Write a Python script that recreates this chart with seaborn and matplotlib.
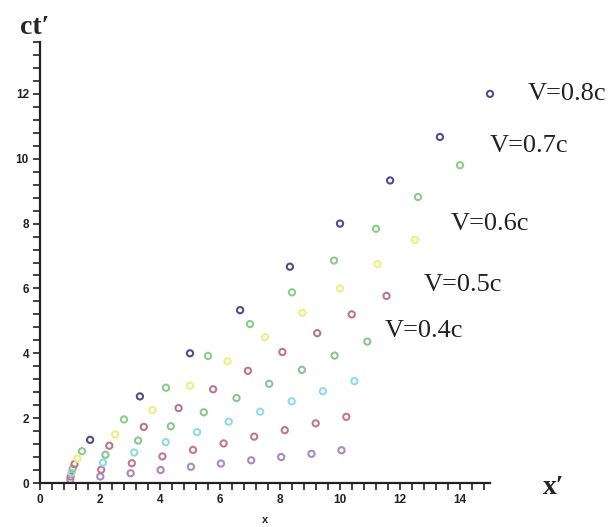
import pandas as pd
import numpy as np
import matplotlib.pyplot as plt
import seaborn as sns
from matplotlib.ticker import MultipleLocator

# x' and ct', one list pair per speed
speeds = ["V=0.1c", "V=0.2c", "V=0.3c", "V=0.4c", "V=0.5c", "V=0.6c", "V=0.7c", "V=0.8c"]
x_01 = [1.01, 2.01, 3.02, 4.02, 5.03, 6.03, 7.04, 8.04, 9.05, 10.05]
t_01 = [0.10, 0.20, 0.30, 0.40, 0.50, 0.60, 0.70, 0.80, 0.90, 1.01]
x_02 = [1.02, 2.04, 3.06, 4.08, 5.10, 6.12, 7.14, 8.16, 9.19, 10.21]
t_02 = [0.20, 0.41, 0.61, 0.82, 1.02, 1.22, 1.43, 1.63, 1.84, 2.04]
x_03 = [1.05, 2.10, 3.14, 4.19, 5.24, 6.29, 7.34, 8.39, 9.43, 10.48]
t_03 = [0.31, 0.63, 0.94, 1.26, 1.57, 1.89, 2.20, 2.52, 2.83, 3.14]
x_04 = [1.09, 2.18, 3.27, 4.36, 5.46, 6.55, 7.64, 8.73, 9.82, 10.91]
t_04 = [0.44, 0.87, 1.31, 1.75, 2.18, 2.62, 3.06, 3.49, 3.93, 4.36]
x_05 = [1.15, 2.31, 3.46, 4.62, 5.77, 6.93, 8.08, 9.24, 10.39, 11.55]
t_05 = [0.58, 1.15, 1.73, 2.31, 2.89, 3.46, 4.04, 4.62, 5.20, 5.77]
x_06 = [1.25, 2.50, 3.75, 5.00, 6.25, 7.50, 8.75, 10.00, 11.25, 12.50]
t_06 = [0.75, 1.50, 2.25, 3.00, 3.75, 4.50, 5.25, 6.00, 6.75, 7.50]
x_07 = [1.40, 2.80, 4.20, 5.60, 7.00, 8.40, 9.80, 11.20, 12.60, 14.00]
t_07 = [0.98, 1.96, 2.94, 3.92, 4.90, 5.88, 6.86, 7.84, 8.82, 9.80]
x_08 = [1.67, 3.33, 5.00, 6.67, 8.33, 10.00, 11.67, 13.33, 15.00]
t_08 = [1.33, 2.67, 4.00, 5.33, 6.67, 8.00, 9.33, 10.67, 12.00]

xs = [x_01, x_02, x_03, x_04, x_05, x_06, x_07, x_08]
ts = [t_01, t_02, t_03, t_04, t_05, t_06, t_07, t_08]

colors = ["#a98ab8", "#c2788e", "#8fdbe6", "#8cc494",
          "#b8788a", "#eeee84", "#8ccc8c", "#4e4e8e"]

# labels placed at the end of the upper five rows
label_names = ["V=0.8c", "V=0.7c", "V=0.6c", "V=0.5c", "V=0.4c"]
label_x = [16.25, 15.0, 13.7, 12.8, 11.5]
label_y = [12.0, 10.4, 8.0, 6.1, 4.7]

rows = []
for name, xx, tt in zip(speeds, xs, ts):
    for a, b in zip(xx, tt):
        rows.append({"x": a, "t": b, "speed": name})
df = pd.DataFrame(rows)

sns.set_style("white")
fig = plt.figure(figsize=(6.1, 5.27), dpi=100)
ax = fig.add_axes([40/610, 44/527, 450/610, 441/527])

sns.scatterplot(data=df, x="x", y="t", hue="speed", hue_order=speeds,
                palette=dict(zip(speeds, colors)), ax=ax, s=20,
                facecolor="none", linewidth=1.5, legend=False, clip_on=False)
# hollow markers: edges take the hue colour
for coll in ax.collections:
    coll.set_edgecolor(coll.get_facecolor())
    coll.set_facecolor("none")

ax.set_xlim(0, 15)
ax.set_ylim(0, 13.6)
ax.set_xlabel("")
ax.set_ylabel("")
for side in ["top", "right"]:
    ax.spines[side].set_visible(False)
for side in ["left", "bottom"]:
    ax.spines[side].set_linewidth(1.6)
    ax.spines[side].set_color("#222222")

ax.xaxis.set_major_locator(MultipleLocator(2))
ax.xaxis.set_minor_locator(MultipleLocator(0.4))
ax.yaxis.set_major_locator(MultipleLocator(2))
ax.yaxis.set_minor_locator(MultipleLocator(0.4))
ax.tick_params(which="both", direction="out", length=5, width=1.3,
               color="#333333", bottom=True, left=True)
ax.tick_params(which="major", labelsize=8.5, pad=3)
for lab in ax.get_xticklabels() + ax.get_yticklabels():
    lab.set_fontweight("bold")
    lab.set_family("Liberation Sans")
    lab.set_color("#222222")

for name, lx, ly in zip(label_names, label_x, label_y):
    ax.text(lx, ly, name, fontsize=19, family="Liberation Serif",
            color="#222222", va="center", ha="left", clip_on=False)

fig.text(20/610, 1 - 28/527, "ct\u2032", fontsize=20, fontweight="bold",
         family="Liberation Serif", va="center", ha="left")
fig.text(543/610, 1 - 488/527, "x\u2032", fontsize=20, fontweight="bold",
         family="Liberation Serif", va="center", ha="left")
fig.text(265/610, 2/527, "x", fontsize=8, fontweight="bold",
         family="Liberation Sans", va="bottom", ha="center")

fig.savefig("out.png", dpi=100)
